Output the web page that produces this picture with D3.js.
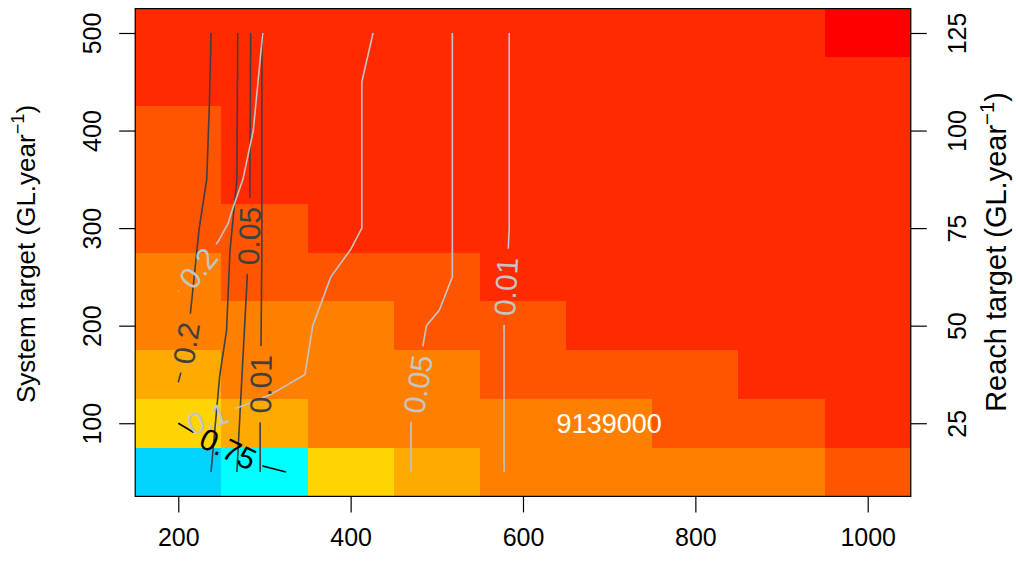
<!DOCTYPE html>
<html><head><meta charset="utf-8">
<script src="https://cdn.jsdelivr.net/npm/d3@7"></script>
<style>body{margin:0;background:#fff} text{font-family:"Liberation Sans",Arial,Helvetica,sans-serif}</style>
</head><body><svg id="c" width="1016" height="564"></svg>
<script>
// ---- data ----
const xValues=[200,300,400,500,600,700,800,900,1000];
const yValues=[50,100,150,200,250,300,350,400,450,500];
const palette=["#00D4FF","#00FFFF","#FFD400","#FFAA00","#FF8000","#FF5500","#FF2A00","#FF0000"];
// colour class of each cell; one row per system target, from 50 up to 500
const classRows=[
 [0,1,2,3,4,4,4,4,5],
 [2,3,4,4,4,4,5,5,6],
 [3,4,4,4,5,5,5,6,6],
 [4,4,4,5,5,6,6,6,6],
 [4,5,5,5,6,6,6,6,6],
 [5,5,6,6,6,6,6,6,6],
 [5,6,6,6,6,6,6,6,6],
 [5,6,6,6,6,6,6,6,6],
 [6,6,6,6,6,6,6,6,6],
 [6,6,6,6,6,6,6,6,7]];
const xTicks=[200,400,600,800,1000];
const systemTicks=[100,200,300,400,500];
const reachTicks=[25,50,75,100,125];
const cellNote={x:700,y:100,text:"9139000"};

// contour lines (x, system target)
const darkLine02=[[238,500],[236,425],[233,350],[224,298],[214,212],[209,182],[203,152],[200,142]];
const darkLineB=[[269,500],[268,350],[260,277],[256,195],[248,148],[238,50]];
const darkLine005=[[284,500],[283,334],[282,292],[280,250],[268,50]];
const darkLine001=[[297,500],[297,277],[296,181],[295.5,140],[295,100],[295,50]];
const blackLine075=[[200,100],[217,91],[258,74],[299,56],[325,50]];
const lightLine02=[[298,500],[287,400],[275,350],[262,317],[258,305],[246,286],[223,259],[200,235]];
const lightLine01=[[426,500],[413,450],[413,300],[400,278],[377,250],[356,200],[347,150],[318,135],[306,129],[275,118],[234,105],[200,95]];
const lightLine005=[[518,500],[518,250],[503,216],[488,200],[484,180],[478,140],[470,100],[470,50]];
const lightLine001=[[584,500],[584,300],[583,280],[580,240],[578,200],[578,50]];

const contours=[
 {pts:darkLine02,label:"0.2",at:[209,182],tone:"dark"},
 {pts:darkLineB,label:null,tone:"dark"},
 {pts:darkLine005,label:"0.05",at:[282,292],tone:"dark"},
 {pts:darkLine001,label:"0.01",at:[295.5,140],tone:"dark"},
 {pts:lightLine02,label:"0.2",at:[223,259],tone:"light"},
 {pts:lightLine01,label:"0.1",at:[234,105],tone:"light"},
 {pts:lightLine005,label:"0.05",at:[478,140],tone:"light"},
 {pts:lightLine001,label:"0.01",at:[580,240],tone:"light"},
 {pts:blackLine075,label:"0.75",at:[258,74],tone:"black"}
];

// ---- styles ----
const tones={dark:"#404040",light:"#C4C4C4",black:"#000000"};
const W=1016,H=564;
const svg=d3.select("#c");
const x=d3.scaleLinear().domain([150,1050]).range([135.2,910.8]);
const y=d3.scaleLinear().domain([25,525]).range([496.4,8.6]);
const yR=d3.scaleLinear().domain([25/4,525/4]).range([496.4,8.6]);

// cells
const cells=[];
yValues.forEach((yv,i)=>xValues.forEach((xv,j)=>cells.push({xv,yv,c:classRows[i][j]})));
const rx=v=>Math.round(x(v)), ry=v=>Math.round(y(v));
svg.append("g").attr("shape-rendering","crispEdges").selectAll("rect").data(cells).join("rect")
 .attr("x",d=>rx(d.xv-50)).attr("y",d=>ry(d.yv+25))
 .attr("width",d=>rx(d.xv+50)-rx(d.xv-50)).attr("height",d=>ry(d.yv-25)-ry(d.yv+25))
 .attr("fill",d=>palette[d.c]);

// contours
const defs=svg.append("defs");
const line=d3.line().x(d=>x(d[0])).y(d=>y(d[1]));
const labFont=30;
const cg=svg.append("g");
const lg=svg.append("g");
contours.forEach((c,i)=>{
  let maskAttr=null;
  if(c.label){
    const k=c.pts.findIndex(p=>p[0]===c.at[0]&&p[1]===c.at[1]);
    const a=c.pts[k-1], b=c.pts[k+1];
    let ang=Math.atan2(y(b[1])-y(a[1]),x(b[0])-x(a[0]))*180/Math.PI;
    if(ang>=90) ang-=180; if(ang<-90) ang+=180;
    const px=x(c.at[0]), py=y(c.at[1]);
    const t=lg.append("text").text(c.label).attr("font-size",labFont)
      .attr("text-anchor","middle").attr("dy","0.36em").attr("fill",tones[c.tone])
      .attr("transform",`translate(${px},${py}) rotate(${ang})`);
    const w=t.node().getComputedTextLength();
    const m=defs.append("mask").attr("id","m"+i).attr("maskUnits","userSpaceOnUse")
      .attr("x",0).attr("y",0).attr("width",W).attr("height",H);
    m.append("rect").attr("width",W).attr("height",H).attr("fill","white");
    m.append("rect").attr("x",-w/2-9).attr("y",-labFont*0.5).attr("width",w+18).attr("height",labFont)
      .attr("fill","black").attr("transform",`translate(${px},${py}) rotate(${ang})`);
    maskAttr=`url(#m${i})`;
  }
  cg.append("path").attr("d",line(c.pts)).attr("fill","none")
    .attr("stroke",tones[c.tone]).attr("stroke-width",1.6).attr("mask",maskAttr);
});

// cell note
svg.append("text").attr("x",x(cellNote.x)).attr("y",y(cellNote.y)).attr("dy","0.36em")
 .attr("text-anchor","middle").attr("font-size",27).attr("fill","#fff").text(cellNote.text);

// box
svg.append("rect").attr("x",x(150)).attr("y",y(525)).attr("width",x(1050)-x(150)).attr("height",y(25)-y(525))
 .attr("fill","none").attr("stroke","#000").attr("stroke-width",1.2);

const tickFont=25;
const fmt=d3.format("d");
// bottom axis
const gb=svg.append("g").attr("transform",`translate(0,${y(25)})`)
 .call(d3.axisBottom(x).tickValues(xTicks).tickFormat(fmt).tickSize(16).tickSizeOuter(0));
gb.select(".domain").remove();
gb.selectAll("line").attr("stroke","#000").attr("stroke-width",1.2);
gb.selectAll("text").attr("font-size",tickFont).attr("fill","#000").attr("y",50).attr("dy",0)
 .attr("font-family","Liberation Sans, Arial, sans-serif");

// left axis
const gl=svg.append("g").attr("transform",`translate(${x(150)},0)`)
 .call(d3.axisLeft(y).tickValues(systemTicks).tickFormat(fmt).tickSize(16).tickSizeOuter(0));
gl.select(".domain").remove();
gl.selectAll("line").attr("stroke","#000").attr("stroke-width",1.2);
gl.selectAll("text").attr("font-size",tickFont).attr("fill","#000").attr("x",0).attr("dy",0)
 .attr("text-anchor","middle").attr("transform","translate(-34.5,0) rotate(-90)")
 .attr("font-family","Liberation Sans, Arial, sans-serif");

// right axis
const gr=svg.append("g").attr("transform",`translate(${x(1050)},0)`)
 .call(d3.axisRight(yR).tickValues(reachTicks).tickFormat(fmt).tickSize(16).tickSizeOuter(0));
gr.select(".domain").remove();
gr.selectAll("line").attr("stroke","#000").attr("stroke-width",1.2);
gr.selectAll("text").attr("font-size",tickFont).attr("fill","#000").attr("x",0).attr("dy",0)
 .attr("text-anchor","middle").attr("transform","translate(55,0) rotate(-90)")
 .attr("font-family","Liberation Sans, Arial, sans-serif");

// axis titles
function title(txt,cx,cy,size){
  const t=svg.append("text").attr("transform",`translate(${cx},${cy}) rotate(-90)`)
    .attr("text-anchor","middle").attr("font-size",size).attr("fill","#000");
  t.append("tspan").text(txt+" (GL.year");
  t.append("tspan").text("\u22121").attr("font-size",size*0.7).attr("dy",-size*0.42);
  t.append("tspan").text(")").attr("dy",size*0.42);
}
title("System target",35,254,26);
title("Reach target",1006,252,29);
</script></body></html>
